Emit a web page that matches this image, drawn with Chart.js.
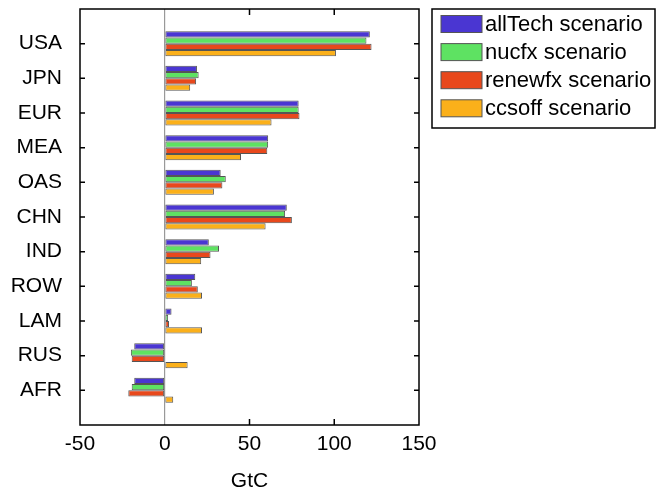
<!DOCTYPE html>
<html>
<head>
<meta charset="utf-8">
<script src="https://cdn.jsdelivr.net/npm/chart.js@4.4.0/dist/chart.umd.min.js"></script>
<style>
  html, body { margin: 0; padding: 0; background: #fff; }
  #wrap { width: 662px; height: 494px; position: relative; }
</style>
</head>
<body>
<div id="wrap"><canvas id="regions-chart"></canvas></div>
<script>
// regions, top to bottom
var regions = ["USA","JPN","EUR","MEA","OAS","CHN","IND","ROW","LAM","RUS","AFR"];
// GtC per scenario
var allTech = [121, 19, 79, 61, 33, 72, 26, 18, 4, -18, -18];
var nucfx   = [119, 20, 79, 61, 36, 71, 32, 16, 2, -20, -19.5];
var renewfx = [122, 18.5, 79.5, 60.5, 34, 75, 27, 19.5, 2.5, -19.5, -21.5];
var ccsoff  = [101, 15, 63, 45, 29, 59.5, 21.5, 22, 22, 13.5, 5];
var xTicks = [-50, 0, 50, 100, 150];

var seriesNames = ["allTech scenario","nucfx scenario","renewfx scenario","ccsoff scenario"];
var seriesColors = ["#4a36d2","#5ee262","#e8481c","#fbb01a"];

// blank slot at each end so the first/last region sit one band in from the frame
function pad(arr) { return [null].concat(arr, [null]); }
var labels = [""].concat(regions, [""]);

var font = "'Liberation Sans', Arial, sans-serif";

// frame, inward ticks and boxed legend like the original figure
var framePlugin = {
    id: "frame",
    afterDraw: function(chart) {
        var c = chart.ctx, a = chart.chartArea;
        var xs = chart.scales.x, ys = chart.scales.y;
        c.save();
        c.strokeStyle = "#000";
        c.lineWidth = 1.5;
        c.strokeRect(a.left, a.top, a.right - a.left, a.bottom - a.top);
        c.beginPath();
        xTicks.forEach(function(v) {
            if (v === xTicks[0] || v === xTicks[xTicks.length - 1] || v === 0) return;
            var px = xs.getPixelForValue(v);
            c.moveTo(px, a.bottom); c.lineTo(px, a.bottom - 6);
            c.moveTo(px, a.top); c.lineTo(px, a.top + 6);
        });
        regions.forEach(function(r, i) {
            var py = ys.getPixelForValue(i + 1);
            c.moveTo(a.left, py); c.lineTo(a.left + 5, py);
            c.moveTo(a.right, py); c.lineTo(a.right - 5, py);
        });
        c.stroke();

        // legend
        var lx = a.right + 13, ly = a.top, lw = 223, lh = 119;
        c.lineWidth = 1.5;
        c.strokeRect(lx, ly, lw, lh);
        c.font = "22px " + font;
        c.textBaseline = "middle";
        c.textAlign = "left";
        seriesNames.forEach(function(name, i) {
            var cy = ly + 15 + i * 28.1;
            c.fillStyle = seriesColors[i];
            c.fillRect(lx + 9, cy - 8.5, 41, 17);
            c.strokeStyle = "#555";
            c.lineWidth = 1;
            c.strokeRect(lx + 9, cy - 8.5, 41, 17);
            c.fillStyle = "#000";
            c.fillText(name, lx + 53, cy + 1);
        });
        c.restore();
    }
};

var chartData = {
    labels: labels,
    datasets: [
        { label: seriesNames[0], data: pad(allTech), backgroundColor: seriesColors[0] },
        { label: seriesNames[1], data: pad(nucfx), backgroundColor: seriesColors[1] },
        { label: seriesNames[2], data: pad(renewfx), backgroundColor: seriesColors[2] },
        { label: seriesNames[3], data: pad(ccsoff), backgroundColor: seriesColors[3] }
    ].map(function(d) {
        d.borderColor = "#555";
        d.borderWidth = 1;
        d.borderSkipped = false;
        d.categoryPercentage = 0.72;
        d.barPercentage = 1.0;
        return d;
    })
};

var chartOptions = {
    indexAxis: "y",
    responsive: true,
    maintainAspectRatio: false,
    animation: false,
    layout: { padding: { left: 0, top: 9, right: 243, bottom: 0 } },
    plugins: { legend: { display: false }, tooltip: { enabled: false } },
    scales: {
        x: {
            type: "linear",
            min: -50, max: 150,
            afterBuildTicks: function(s) { s.ticks = xTicks.map(function(v) { return { value: v }; }); },
            afterFit: function(s) { s.height = 69; s.paddingLeft = 0; s.paddingRight = 0; },
            border: { display: false },
            grid: {
                drawTicks: false,
                color: function(ctx) { return ctx.tick && ctx.tick.value === 0 ? "#999" : "rgba(0,0,0,0)"; },
                lineWidth: 1.2
            },
            ticks: { color: "#000", font: { family: font, size: 21 }, padding: 7 },
            title: { display: true, text: "GtC", color: "#000", font: { family: font, size: 21 }, padding: { top: 9, bottom: 0 } }
        },
        y: {
            type: "category",
            offset: false,
            afterFit: function(s) { s.width = 80; s.paddingTop = 0; s.paddingBottom = 0; },
            border: { display: false },
            grid: { display: false, drawTicks: false },
            ticks: { color: "#000", font: { family: font, size: 21 }, padding: 18, autoSkip: false }
        }
    }
};

var config = {
    type: "bar",
    options: chartOptions,
    data: chartData,
    plugins: [framePlugin]
};

var regionChart = new Chart(document.getElementById("regions-chart"), config);
</script>
</body>
</html>
